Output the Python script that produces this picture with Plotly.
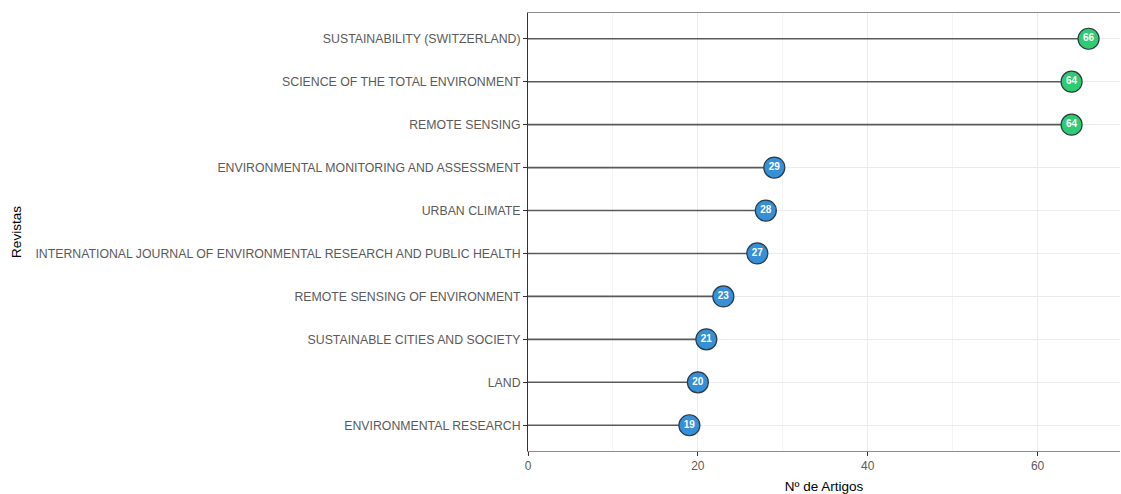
import plotly.graph_objects as go

journals = [
    "SUSTAINABILITY (SWITZERLAND)",
    "SCIENCE OF THE TOTAL ENVIRONMENT",
    "REMOTE SENSING",
    "ENVIRONMENTAL MONITORING AND ASSESSMENT",
    "URBAN CLIMATE",
    "INTERNATIONAL JOURNAL OF ENVIRONMENTAL RESEARCH AND PUBLIC HEALTH",
    "REMOTE SENSING OF ENVIRONMENT",
    "SUSTAINABLE CITIES AND SOCIETY",
    "LAND",
    "ENVIRONMENTAL RESEARCH",
]
articles = [66, 64, 64, 29, 28, 27, 23, 21, 20, 19]
x_ticks = [0, 20, 40, 60]

GREEN = "#2ecc71"
BLUE = "#3590d8"
colors = [GREEN if v >= 60 else BLUE for v in articles]

seg_x, seg_y = [], []
for j, v in zip(journals, articles):
    seg_x += [0, v, None]
    seg_y += [j, j, None]

fig = go.Figure()
fig.add_trace(go.Scatter(
    x=seg_x, y=seg_y, mode="lines",
    line=dict(color="#5a5a5a", width=1.6),
    hoverinfo="skip", showlegend=False,
))
fig.add_trace(go.Scatter(
    x=articles, y=journals, mode="markers+text",
    marker=dict(size=21, color=colors, line=dict(color="#2b3a44", width=1.2)),
    text=[str(v) for v in articles],
    textposition="middle center",
    textfont=dict(color="white", size=10, family="Liberation Sans, Arial, sans-serif", weight="bold"),
    showlegend=False,
))

fig.update_layout(
    width=1121, height=494,
    margin=dict(l=528, r=1, t=13, b=43, autoexpand=False),
    paper_bgcolor="white", plot_bgcolor="white",
    font=dict(family="Liberation Sans, Arial, sans-serif", color="#4d4d4d", size=12),
    xaxis=dict(
        range=[0, 69.7],
        tickvals=x_ticks,
        showgrid=True, gridcolor="#ebebeb", gridwidth=1,
        minor=dict(tickvals=[10, 30, 50], showgrid=True, gridcolor="#f4f4f4", gridwidth=1),
        showline=True, linecolor="#8c8c8c", linewidth=1, mirror=True,
        ticks="outside", ticklen=4, tickcolor="#333333",
        tickfont=dict(size=12, color="#5a5a5a"),
        zeroline=False,
        title=dict(text="Nº de Artigos", font=dict(size=13.5, color="black"), standoff=10),
    ),
    yaxis=dict(
        type="category",
        categoryorder="array", categoryarray=journals[::-1],
        range=[-0.6, 9.6],
        showgrid=True, gridcolor="#ebebeb", gridwidth=1,
        showline=True, linecolor="#333333", linewidth=1, mirror=False,
        ticks="outside", ticklen=4, tickcolor="#333333",
        tickfont=dict(size=12.3, color="#5a5a5a"),
        zeroline=False,
        title=dict(text="Revistas", font=dict(size=13.5, color="black"), standoff=10),
    ),
)

fig.write_html("out.html", config={"displayModeBar": False},
               post_script="document.body.style.margin='0';")
